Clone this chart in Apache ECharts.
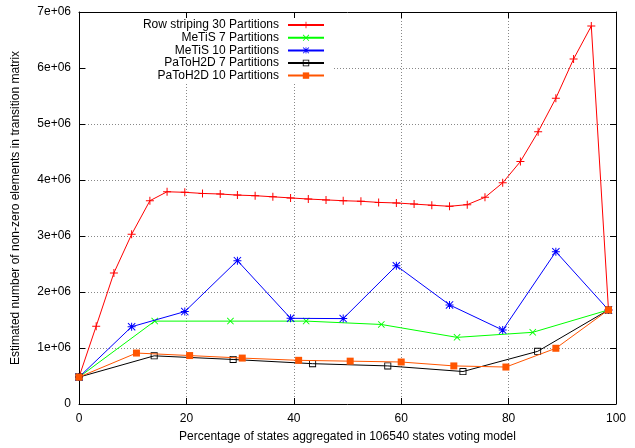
<!DOCTYPE html>
<html>
<head>
<meta charset="utf-8">
<script src="https://cdn.jsdelivr.net/npm/echarts@6/dist/echarts.min.js"></script>
<style>
html,body{margin:0;padding:0;background:#fff;}
#c{width:635px;height:448px;}
</style>
</head>
<body>
<div id="c"></div>
<script>
var seriesNames = ['Row striping 30 Partitions','MeTiS 7 Partitions','MeTiS 10 Partitions','PaToH2D 7 Partitions','PaToH2D 10 Partitions'];
var xTicks = [0, 20, 40, 60, 80, 100];
var yTickLabels = ['0','1e+06','2e+06','3e+06','4e+06','5e+06','6e+06','7e+06'];

var rowX = [0, 3.2, 6.5, 9.8, 13.2, 16.4, 19.7, 23.0, 26.3, 29.5, 32.8, 36.1, 39.4, 42.7, 46.0, 49.2, 52.5, 55.8, 59.1, 62.4, 65.7, 69.0, 72.3, 75.6, 78.9, 82.2, 85.5, 88.8, 92.1, 95.4, 98.6];
var rowY = [480000, 1390000, 2340000, 3030000, 3630000, 3790000, 3780000, 3760000, 3750000, 3730000, 3720000, 3700000, 3680000, 3660000, 3645000, 3630000, 3620000, 3600000, 3590000, 3570000, 3550000, 3530000, 3560000, 3690000, 3950000, 4330000, 4860000, 5460000, 6160000, 6750000, 1680000];

var metis7X = [0, 14.1, 28.2, 42.3, 56.3, 70.4, 84.5, 98.6];
var metis7Y = [480000, 1480000, 1480000, 1480000, 1420000, 1190000, 1280000, 1680000];

var metis10X = [0, 9.8, 19.7, 29.5, 39.4, 49.2, 59.1, 69.0, 78.9, 88.8, 98.6];
var metis10Y = [480000, 1380000, 1650000, 2560000, 1530000, 1525000, 2470000, 1770000, 1320000, 2720000, 1680000];

var patoh7X = [0, 14.0, 28.7, 43.5, 57.5, 71.5, 85.4, 98.6];
var patoh7Y = [480000, 860000, 795000, 720000, 680000, 580000, 940000, 1680000];

var patoh10X = [0, 10.7, 20.6, 30.4, 40.9, 50.5, 60.0, 69.8, 79.5, 88.8, 98.6];
var patoh10Y = [480000, 910000, 865000, 820000, 780000, 765000, 750000, 680000, 660000, 995000, 1680000];

function pairs(xs, ys){ return xs.map(function(x,i){ return [x, ys[i]]; }); }

var FONT = '"Liberation Sans", Arial, sans-serif';
var plusPath = 'path://M3.5,0H4.5V3.5H8V4.5H4.5V8H3.5V4.5H0V3.5H3.5Z';
var xPath = 'path://M0,0.7L0.7,0L4,3.3L7.3,0L8,0.7L4.7,4L8,7.3L7.3,8L4,4.7L0.7,8L0,7.3L3.3,4Z';
var starPath = 'path://M3.5,0H4.5V3.5H8V4.5H4.5V8H3.5V4.5H0V3.5H3.5Z M0,0.7L0.7,0L4,3.3L7.3,0L8,0.7L4.7,4L8,7.3L7.3,8L4,4.7L0.7,8L0,7.3L3.3,4Z';
var openSquarePath = 'path://M0,0H8V8H0Z M1,1V7H7V1Z';

var colors = ['#ff0000', '#00ff00', '#0000ff', '#000000', '#ff5500'];
var symbols = [plusPath, xPath, starPath, openSquarePath, 'rect'];
var sizes = [8, 7, 8, 7, 7];
var dataSets = [pairs(rowX,rowY), pairs(metis7X,metis7Y), pairs(metis10X,metis10Y), pairs(patoh7X,patoh7Y), pairs(patoh10X,patoh10Y)];

var series = seriesNames.map(function(n,i){
  return {
    name: n, type: 'line', data: dataSets[i], xAxisIndex: 0, yAxisIndex: 0,
    symbol: symbols[i], symbolSize: sizes[i], showAllSymbol: true,
    lineStyle: {color: colors[i], width: 1},
    itemStyle: {color: colors[i], borderWidth: 0},
    animation: false, z: 2 + i
  };
});

var rowYs = [24, 36.8, 49.4, 62, 74.6];
var legends = seriesNames.map(function(n,i){
  return {
    data: [n], orient: 'vertical', align: 'right', right: 310, top: rowYs[i] - 5,
    padding: 0, itemWidth: 36, itemHeight: 8, itemGap: 0,
    itemStyle: {borderWidth: 0},
    textStyle: {fontFamily: FONT, fontSize: 12, color: '#000', padding: [0,4,0,0]},
    selectedMode: false, z: 10
  };
});

var gridColor = '#888';
var option = {
  backgroundColor: '#fff',
  animation: false,
  color: colors,
  grid: {left: 79, right: 19, top: 12, bottom: 40},
  legend: legends,
  graphic: [{type: 'rect', shape: {x: 86, y: 18, width: 248, height: 64}, style: {fill: '#fff'}, z: 1, silent: true}],
  xAxis: [{
    type: 'value', min: 0, max: 100, interval: 20, position: 'bottom',
    name: 'Percentage of states aggregated in 106540 states voting model',
    nameLocation: 'middle', nameGap: 27,
    nameTextStyle: {fontFamily: FONT, fontSize: 12, color: '#000'},
    axisLine: {show: true, onZero: false, lineStyle: {color: '#000', width: 1}},
    axisTick: {show: true, inside: true, length: 6, lineStyle: {color: '#000'}},
    axisLabel: {fontFamily: FONT, fontSize: 12, color: '#000', margin: 9,
      formatter: function(v){ return xTicks.indexOf(v) >= 0 ? String(v) : ''; }},
    splitLine: {show: true, lineStyle: {color: gridColor, type: [1,2], width: 1}}
  },{
    type: 'value', min: 0, max: 100, interval: 20, position: 'top',
    axisLine: {show: true, onZero: false, lineStyle: {color: '#000', width: 1}},
    axisTick: {show: true, inside: true, length: 6, lineStyle: {color: '#000'}},
    axisLabel: {show: false}, splitLine: {show: false}
  }],
  yAxis: [{
    type: 'value', min: 0, max: 7000000, interval: 1000000, position: 'left',
    name: 'Estimated number of non-zero elements in transition matrix',
    nameLocation: 'middle', nameGap: 57, nameRotate: 90,
    nameTextStyle: {fontFamily: FONT, fontSize: 12, color: '#000'},
    axisLine: {show: true, onZero: false, lineStyle: {color: '#000', width: 1}},
    axisTick: {show: true, inside: true, length: 6, lineStyle: {color: '#000'}},
    axisLabel: {fontFamily: FONT, fontSize: 12, color: '#000', margin: 8,
      formatter: function(v){ return yTickLabels[Math.round(v/1000000)]; }},
    splitLine: {show: true, lineStyle: {color: gridColor, type: [1,2], width: 1}}
  },{
    type: 'value', min: 0, max: 7000000, interval: 1000000, position: 'right',
    axisLine: {show: true, onZero: false, lineStyle: {color: '#000', width: 1}},
    axisTick: {show: true, inside: true, length: 6, lineStyle: {color: '#000'}},
    axisLabel: {show: false}, splitLine: {show: false}
  }],
  series: series
};
var chart = echarts.init(document.getElementById('c'), null, {renderer: 'canvas'});
chart.setOption(option);
</script>
</body>
</html>
